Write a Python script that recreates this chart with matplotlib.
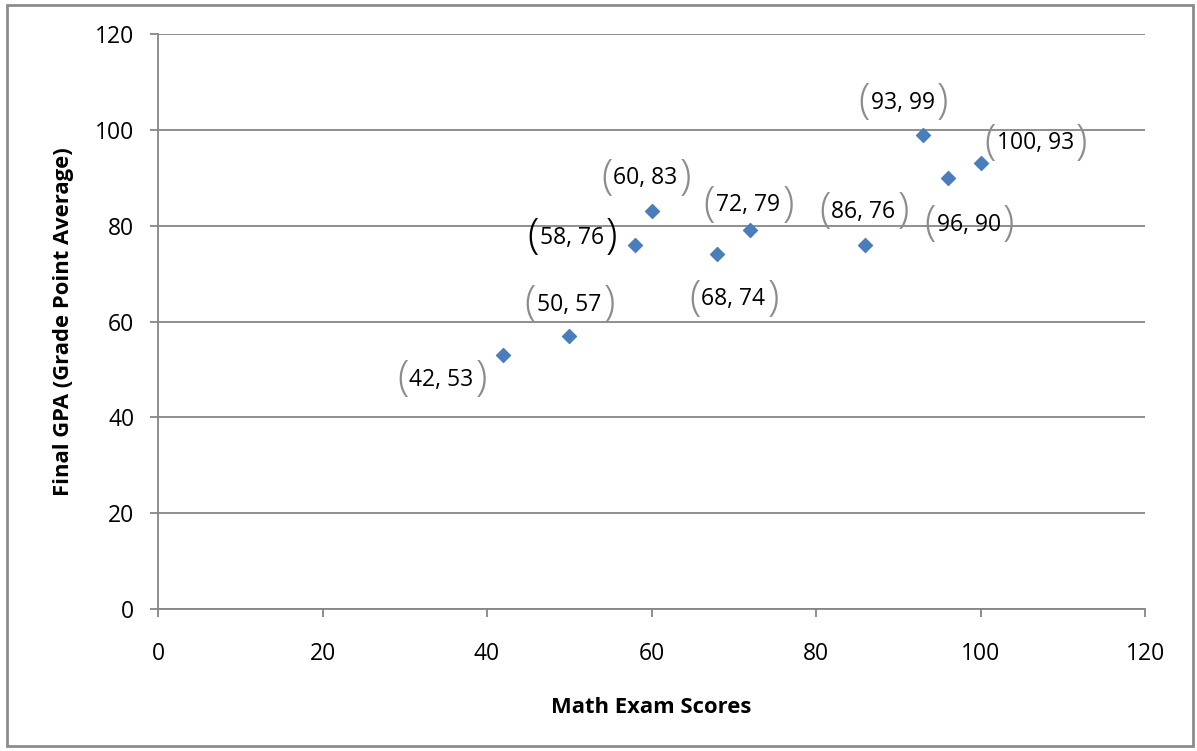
import matplotlib.pyplot as plt
from matplotlib.patches import Rectangle

plt.rcParams['font.family'] = ['Open Sans', 'DejaVu Sans']

math_scores = [42, 50, 58, 60, 68, 72, 86, 93, 96, 100]
final_gpa = [53, 57, 76, 83, 74, 79, 76, 99, 90, 93]
# label offsets in pixels (dx, dy) relative to each point
label_offsets = [(-62, -25), (0, 31), (-63, 7), (-6, 33), (16, -45),
                 (-2, 25), (-2, 33), (-20, 32), (21, -47), (55, 20)]
paren_colors = ['#8c8c8c'] * 10
paren_colors[2] = 'black'

fig = plt.figure(figsize=(11.97, 7.51), dpi=100)
fig.patches.append(Rectangle((7 / 1197, 5 / 751), 1186 / 1197, 741 / 751,
                             transform=fig.transFigure, fill=False,
                             edgecolor='#8c8c8c', linewidth=2))
ax = fig.add_axes([0.132, 0.189, 0.8246, 0.7657])

ax.scatter(math_scores, final_gpa, marker='D', s=50, color='#4a7ebb', zorder=3)

ax.set_xlim(0, 120)
ax.set_ylim(0, 120)
ax.set_xticks(range(0, 121, 20))
ax.set_yticks(range(0, 121, 20))
ax.yaxis.grid(True, color='#868686', linewidth=1.3)
ax.set_axisbelow(True)
for side in ['top', 'right']:
    ax.spines[side].set_visible(False)
for side in ['left', 'bottom']:
    ax.spines[side].set_color('#868686')
    ax.spines[side].set_linewidth(1.3)
ax.tick_params(axis='both', direction='out', length=6, width=1.3,
               color='#868686', labelsize=16.5)
ax.tick_params(axis='x', pad=18)
ax.tick_params(axis='y', pad=11)

ax.set_xlabel('Math Exam Scores', fontsize=15.8, fontweight='bold', labelpad=22)
ax.set_ylabel('Final GPA (Grade Point Average)', fontsize=15.8,
              fontweight='bold', labelpad=15)

texts = []
for x, y, (dx, dy) in zip(math_scores, final_gpa, label_offsets):
    t = ax.annotate(f'{x}, {y}', (x, y), xytext=(dx, dy),
                    textcoords='offset pixels', ha='center', va='center',
                    fontsize=16.5)
    texts.append(t)

fig.canvas.draw()
renderer = fig.canvas.get_renderer()
inv = ax.transData.inverted()
for t, c in zip(texts, paren_colors):
    bb = t.get_window_extent(renderer)
    cy = (bb.y0 + bb.y1) / 2 + 1
    lx, ly = inv.transform((bb.x0 - 1, cy))
    rx, ry = inv.transform((bb.x1 + 2, cy))
    ax.text(lx, ly, '(', ha='right', va='center', fontsize=30,
            fontweight='light', color=c)
    ax.text(rx, ry, ')', ha='left', va='center', fontsize=30,
            fontweight='light', color=c)

fig.savefig('out.png', dpi=100)
